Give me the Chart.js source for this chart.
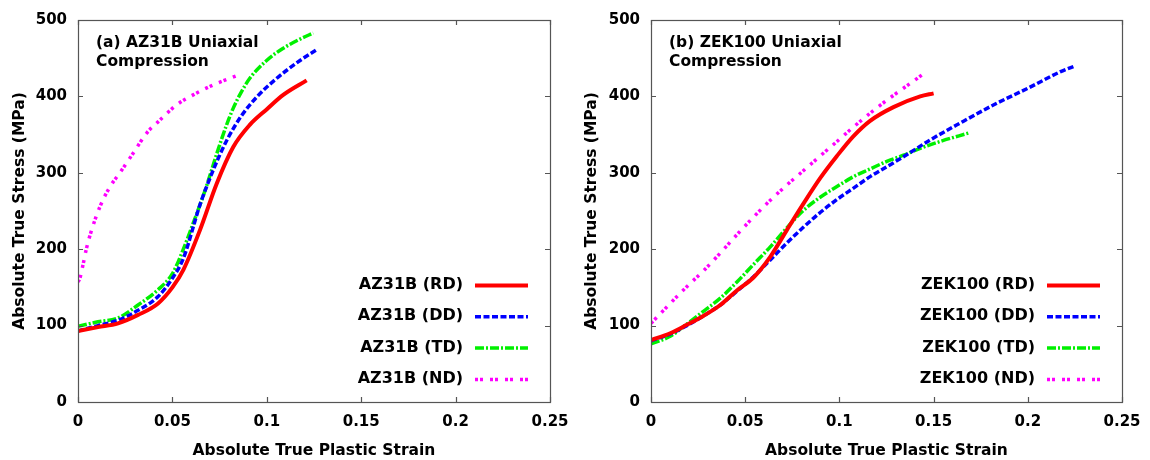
<!DOCTYPE html>
<html>
<head>
<meta charset="utf-8">
<script src="https://cdn.jsdelivr.net/npm/chart.js@4.4.0/dist/chart.umd.min.js"></script>
<style>
  body { margin: 0; background: #fff; width: 1150px; height: 460px; overflow: hidden; }
  .panel { position: absolute; top: 0; width: 575px; height: 460px; }
  canvas { display: block; }
</style>
</head>
<body>
<div class="panel" style="left:0"><canvas id="chartA" width="575" height="460"></canvas></div>
<div class="panel" style="left:575px"><canvas id="chartB" width="575" height="460"></canvas></div>
<script>
// tick labels
var strainTicks = ['0', '0.05', '0.1', '0.15', '0.2', '0.25'];
var stressTicks = ['0', '100', '200', '300', '400', '500'];

// (a) AZ31B
var azLabels = ['AZ31B (RD)', 'AZ31B (DD)', 'AZ31B (TD)', 'AZ31B (ND)'];
var azRdStrain = [0, 0.0106, 0.0212, 0.0318, 0.0424, 0.05, 0.0558, 0.0646, 0.0735, 0.0823, 0.0911, 0.0999, 0.1087, 0.1211];
var azRdStress = [93, 98, 103, 114, 129, 150, 173, 225, 286, 334, 363, 383, 402, 421];
var azDdStrain = [0, 0.0106, 0.0212, 0.0318, 0.0424, 0.05, 0.0558, 0.0646, 0.0717, 0.0787, 0.0867, 0.095, 0.104, 0.1176, 0.1264];
var azDdStress = [93, 100, 107, 120, 138, 162, 188, 258, 304, 342, 375, 400, 421, 447, 461];
var azTdStrain = [0, 0.0106, 0.0212, 0.0318, 0.0424, 0.05, 0.0558, 0.061, 0.0646, 0.068, 0.0735, 0.0786, 0.0823, 0.087, 0.0911, 0.0999, 0.1087, 0.1176, 0.1246];
var azTdStress = [99, 105, 110, 127, 147, 168, 200, 234, 258, 282, 325, 362, 385, 408, 424, 447, 463, 475, 483];
var azNdStrain = [0, 0.001, 0.0026, 0.0044, 0.0072, 0.0117, 0.017, 0.0222, 0.0293, 0.0364, 0.0434, 0.0523, 0.061, 0.0716, 0.084];
var azNdStress = [157, 162, 179, 200, 225, 256, 282, 300, 326, 352, 369, 389, 402, 415, 427];

// (b) ZEK100
var zekLabels = ['ZEK100 (RD)', 'ZEK100 (DD)', 'ZEK100 (TD)', 'ZEK100 (ND)'];
var zekRdStrain = [0, 0.0102, 0.019, 0.028, 0.0368, 0.0456, 0.0544, 0.0633, 0.0721, 0.081, 0.0898, 0.0987, 0.1075, 0.1163, 0.1287, 0.1429, 0.15];
var zekRdStress = [81, 90, 101, 113, 127, 146, 163, 190, 225, 260, 293, 322, 348, 368, 386, 400, 404];
var zekDdStrain = [0, 0.0102, 0.019, 0.028, 0.0368, 0.0456, 0.0544, 0.0633, 0.0721, 0.081, 0.0898, 0.0987, 0.1075, 0.1163, 0.1252, 0.134, 0.1482, 0.164, 0.1835, 0.1995, 0.2171, 0.2251];
var zekDdStress = [80, 89, 100, 113, 127, 145, 164, 186, 208, 229, 248, 265, 280, 295, 308, 321, 343, 365, 391, 410, 432, 440];
var zekTdStrain = [0, 0.0102, 0.019, 0.028, 0.0368, 0.0456, 0.0544, 0.0633, 0.0721, 0.081, 0.0898, 0.0987, 0.1075, 0.1163, 0.1252, 0.134, 0.1429, 0.1535, 0.1685];
var zekTdStress = [76, 86, 102, 119, 136, 157, 180, 203, 228, 251, 268, 282, 295, 305, 315, 323, 332, 341, 352];
var zekNdStrain = [0, 0.019, 0.028, 0.0368, 0.0456, 0.0544, 0.0633, 0.0721, 0.081, 0.0898, 0.0987, 0.1075, 0.1163, 0.1252, 0.1438];
var zekNdStress = [103, 151, 172, 195, 219, 242, 264, 284, 303, 322, 341, 360, 378, 395, 428];

var FONT = 'DejaVu Sans';

function pts(xs, ys) {
  return xs.map(function (x, i) { return { x: x, y: ys[i] }; });
}

// line styles: RD solid, DD dashed, TD dash-dot, ND dotted
var styles = [
  { color: '#ff0000', width: 4, dash: [] },
  { color: '#0000ff', width: 3.5, dash: [6, 2.5] },
  { color: '#00f000', width: 3.5, dash: [9, 2, 2, 2] },
  { color: '#ff00ff', width: 3.5, dash: [3, 2, 3, 7] }
];

function makeSets(labels, series) {
  return series.map(function (s, i) {
    return {
      label: labels[i],
      data: pts(s[0], s[1]),
      borderColor: styles[i].color,
      borderWidth: styles[i].width,
      borderDash: styles[i].dash,
      borderCapStyle: 'butt',
      pointRadius: 0,
      cubicInterpolationMode: 'monotone',
      fill: false
    };
  });
}

// frame + inward ticks on all four sides
var frameTicks = {
  id: 'frameTicks',
  afterDatasetsDraw: function (chart) {
    var ctx = chart.ctx, a = chart.chartArea;
    var xs = chart.scales.x, ys = chart.scales.y;
    ctx.save();
    ctx.strokeStyle = '#555';
    ctx.lineWidth = 1.2;
    ctx.strokeRect(a.left + 0.5, a.top + 0.5, a.right - a.left, a.bottom - a.top);
    ctx.beginPath();
    xs.ticks.forEach(function (t) {
      var px = Math.round(xs.getPixelForValue(t.value)) + 0.5;
      ctx.moveTo(px, a.bottom); ctx.lineTo(px, a.bottom - 5);
      ctx.moveTo(px, a.top); ctx.lineTo(px, a.top + 5);
    });
    ys.ticks.forEach(function (t) {
      var py = Math.round(ys.getPixelForValue(t.value)) + 0.5;
      ctx.moveTo(a.left, py); ctx.lineTo(a.left + 5, py);
      ctx.moveTo(a.right, py); ctx.lineTo(a.right - 5, py);
    });
    ctx.stroke();
    ctx.restore();
  }
};

// panel caption and legend drawn inside the plot area
var annotate = {
  id: 'annotate',
  afterDraw: function (chart) {
    var ctx = chart.ctx, a = chart.chartArea;
    var opts = chart.options.plugins.annotate;
    ctx.save();
    ctx.fillStyle = '#000';
    ctx.font = 'bold 15.5px "' + FONT + '"';
    ctx.textBaseline = 'middle';
    ctx.textAlign = 'left';
    opts.caption.forEach(function (line, i) {
      ctx.fillText(line, a.left + 18, a.top + 23 + i * 19);
    });
    ctx.font = 'bold 16px "' + FONT + '"';
    ctx.textAlign = 'right';
    chart.data.datasets.forEach(function (ds, i) {
      var y = a.bottom - 117 + i * 31.3;
      ctx.fillText(ds.label, a.right - 87, y);
      ctx.beginPath();
      ctx.strokeStyle = ds.borderColor;
      ctx.lineWidth = ds.borderWidth;
      ctx.lineCap = 'butt';
      ctx.setLineDash(ds.borderDash);
      ctx.moveTo(a.right - 75, y + 0.5);
      ctx.lineTo(a.right - 22, y + 0.5);
      ctx.stroke();
      ctx.setLineDash([]);
    });
    ctx.restore();
  }
};

function makeChart(id, labels, series, caption, yWidth, yTitlePad, rightPad) {
  return new Chart(document.getElementById(id), {
    type: 'line',
    data: { datasets: makeSets(labels, series) },
    options: {
      responsive: false,
      animation: false,
      devicePixelRatio: 1,
      layout: { padding: { top: 20, right: rightPad, left: 0, bottom: 0 } },
      plugins: {
        legend: { display: false },
        tooltip: { enabled: false },
        annotate: { caption: caption }
      },
      scales: {
        x: {
          type: 'linear',
          min: 0,
          max: 0.25,
          grid: { display: false, drawTicks: false },
          border: { display: false },
          afterFit: function (s) {
            s.height = 58;
            s.paddingLeft = 0;
            s.paddingRight = 0;
          },
          ticks: {
            stepSize: 0.05,
            padding: 11,
            color: '#000',
            maxRotation: 0,
            font: { family: FONT, size: 15, weight: 'bold' },
            callback: function (v, i) { return strainTicks[i]; }
          },
          title: {
            display: true,
            text: 'Absolute True Plastic Strain',
            color: '#000',
            padding: { top: 0, bottom: 0 },
            font: { family: FONT, size: 15.5, weight: 'bold' }
          }
        },
        y: {
          min: 0,
          max: 500,
          grid: { display: false, drawTicks: false },
          border: { display: false },
          afterFit: function (s) {
            s.width = yWidth;
            s.paddingTop = 0;
            s.paddingBottom = 0;
          },
          ticks: {
            stepSize: 100,
            padding: 11,
            color: '#000',
            font: { family: FONT, size: 15, weight: 'bold' },
            callback: function (v, i) { return stressTicks[i]; }
          },
          title: {
            display: true,
            text: 'Absolute True Stress (MPa)',
            color: '#000',
            padding: { top: yTitlePad, bottom: 0 },
            font: { family: FONT, size: 15.5, weight: 'bold' }
          }
        }
      }
    },
    plugins: [frameTicks, annotate]
  });
}

makeChart('chartA', azLabels, [
  [azRdStrain, azRdStress],
  [azDdStrain, azDdStress],
  [azTdStrain, azTdStress],
  [azNdStrain, azNdStress]
], ['(a) AZ31B Uniaxial', 'Compression'], 78, 11, 25);

makeChart('chartB', zekLabels, [
  [zekRdStrain, zekRdStress],
  [zekDdStrain, zekDdStress],
  [zekTdStrain, zekTdStress],
  [zekNdStrain, zekNdStress]
], ['(b) ZEK100 Uniaxial', 'Compression'], 76, 8, 28);
</script>
</body>
</html>
